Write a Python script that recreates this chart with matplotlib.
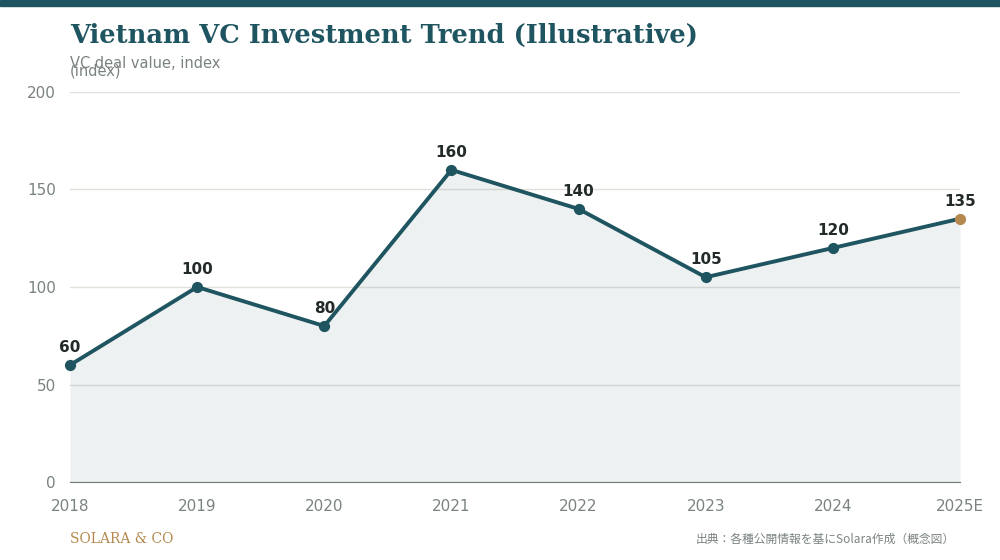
import matplotlib.pyplot as plt
import matplotlib.patches as patches

years = ["2018", "2019", "2020", "2021", "2022", "2023", "2024", "2025E"]
values = [60, 100, 80, 160, 140, 105, 120, 135]

teal = "#1f5560"
gold = "#b5894e"
grey = "#7a8282"

plt.rcParams['font.family'] = ['DejaVu Sans', 'Noto Sans CJK JP']

fig = plt.figure(figsize=(10, 5.6), dpi=100)
ax = fig.add_axes([0.07, 0.139, 0.89, 0.697])

x = list(range(len(years)))
ax.fill_between(x, values, 0, color=teal, alpha=0.08, linewidth=0)
ax.plot(x, values, color=teal, linewidth=2.8, zorder=3, clip_on=False)
ax.scatter(x[:-1], values[:-1], s=50, color=teal, zorder=4, clip_on=False)
ax.scatter(x[-1:], values[-1:], s=50, color=gold, zorder=4, clip_on=False)
for xi, v in zip(x, values):
    ax.text(xi, v + 5, str(v), ha="center", va="bottom", fontsize=11,
            fontweight="bold", color="#222a2a")

ax.set_xlim(0, len(years) - 1)
ax.set_ylim(0, 200)
ax.set_yticks([0, 50, 100, 150, 200])
ax.set_xticks(x)
ax.set_xticklabels(years)
ax.grid(axis="y", color="#e2e0da", linewidth=1)
ax.set_axisbelow(True)
for s in ["top", "right", "left"]:
    ax.spines[s].set_visible(False)
ax.spines["bottom"].set_color("#6f7777")
ax.tick_params(length=0, colors=grey, labelsize=11)
ax.tick_params(axis="x", pad=12)
ax.tick_params(axis="y", pad=10)

fig.patches.append(patches.Rectangle((0, 0.989), 1, 0.011, transform=fig.transFigure,
                                     color=teal, zorder=5))
fig.text(0.07, 0.915, "Vietnam VC Investment Trend (Illustrative)", fontsize=18.5,
         fontweight="bold", family="DejaVu Serif", color=teal, va="bottom")
fig.text(0.07, 0.873, "VC deal value, index", fontsize=10.5, color=grey, va="bottom")
fig.text(0.07, 0.86, "(index)", fontsize=10.5, color=grey, va="bottom")
fig.text(0.07, 0.03, "SOLARA & CO", fontsize=10, family="DejaVu Serif", color=gold)
fig.text(0.955, 0.03, "出典：各種公開情報を基にSolara作成（概念図）", fontsize=8.5,
         color=grey, ha="right", family=["Noto Sans CJK JP", "DejaVu Sans"])

fig.savefig("out.png", dpi=100)
